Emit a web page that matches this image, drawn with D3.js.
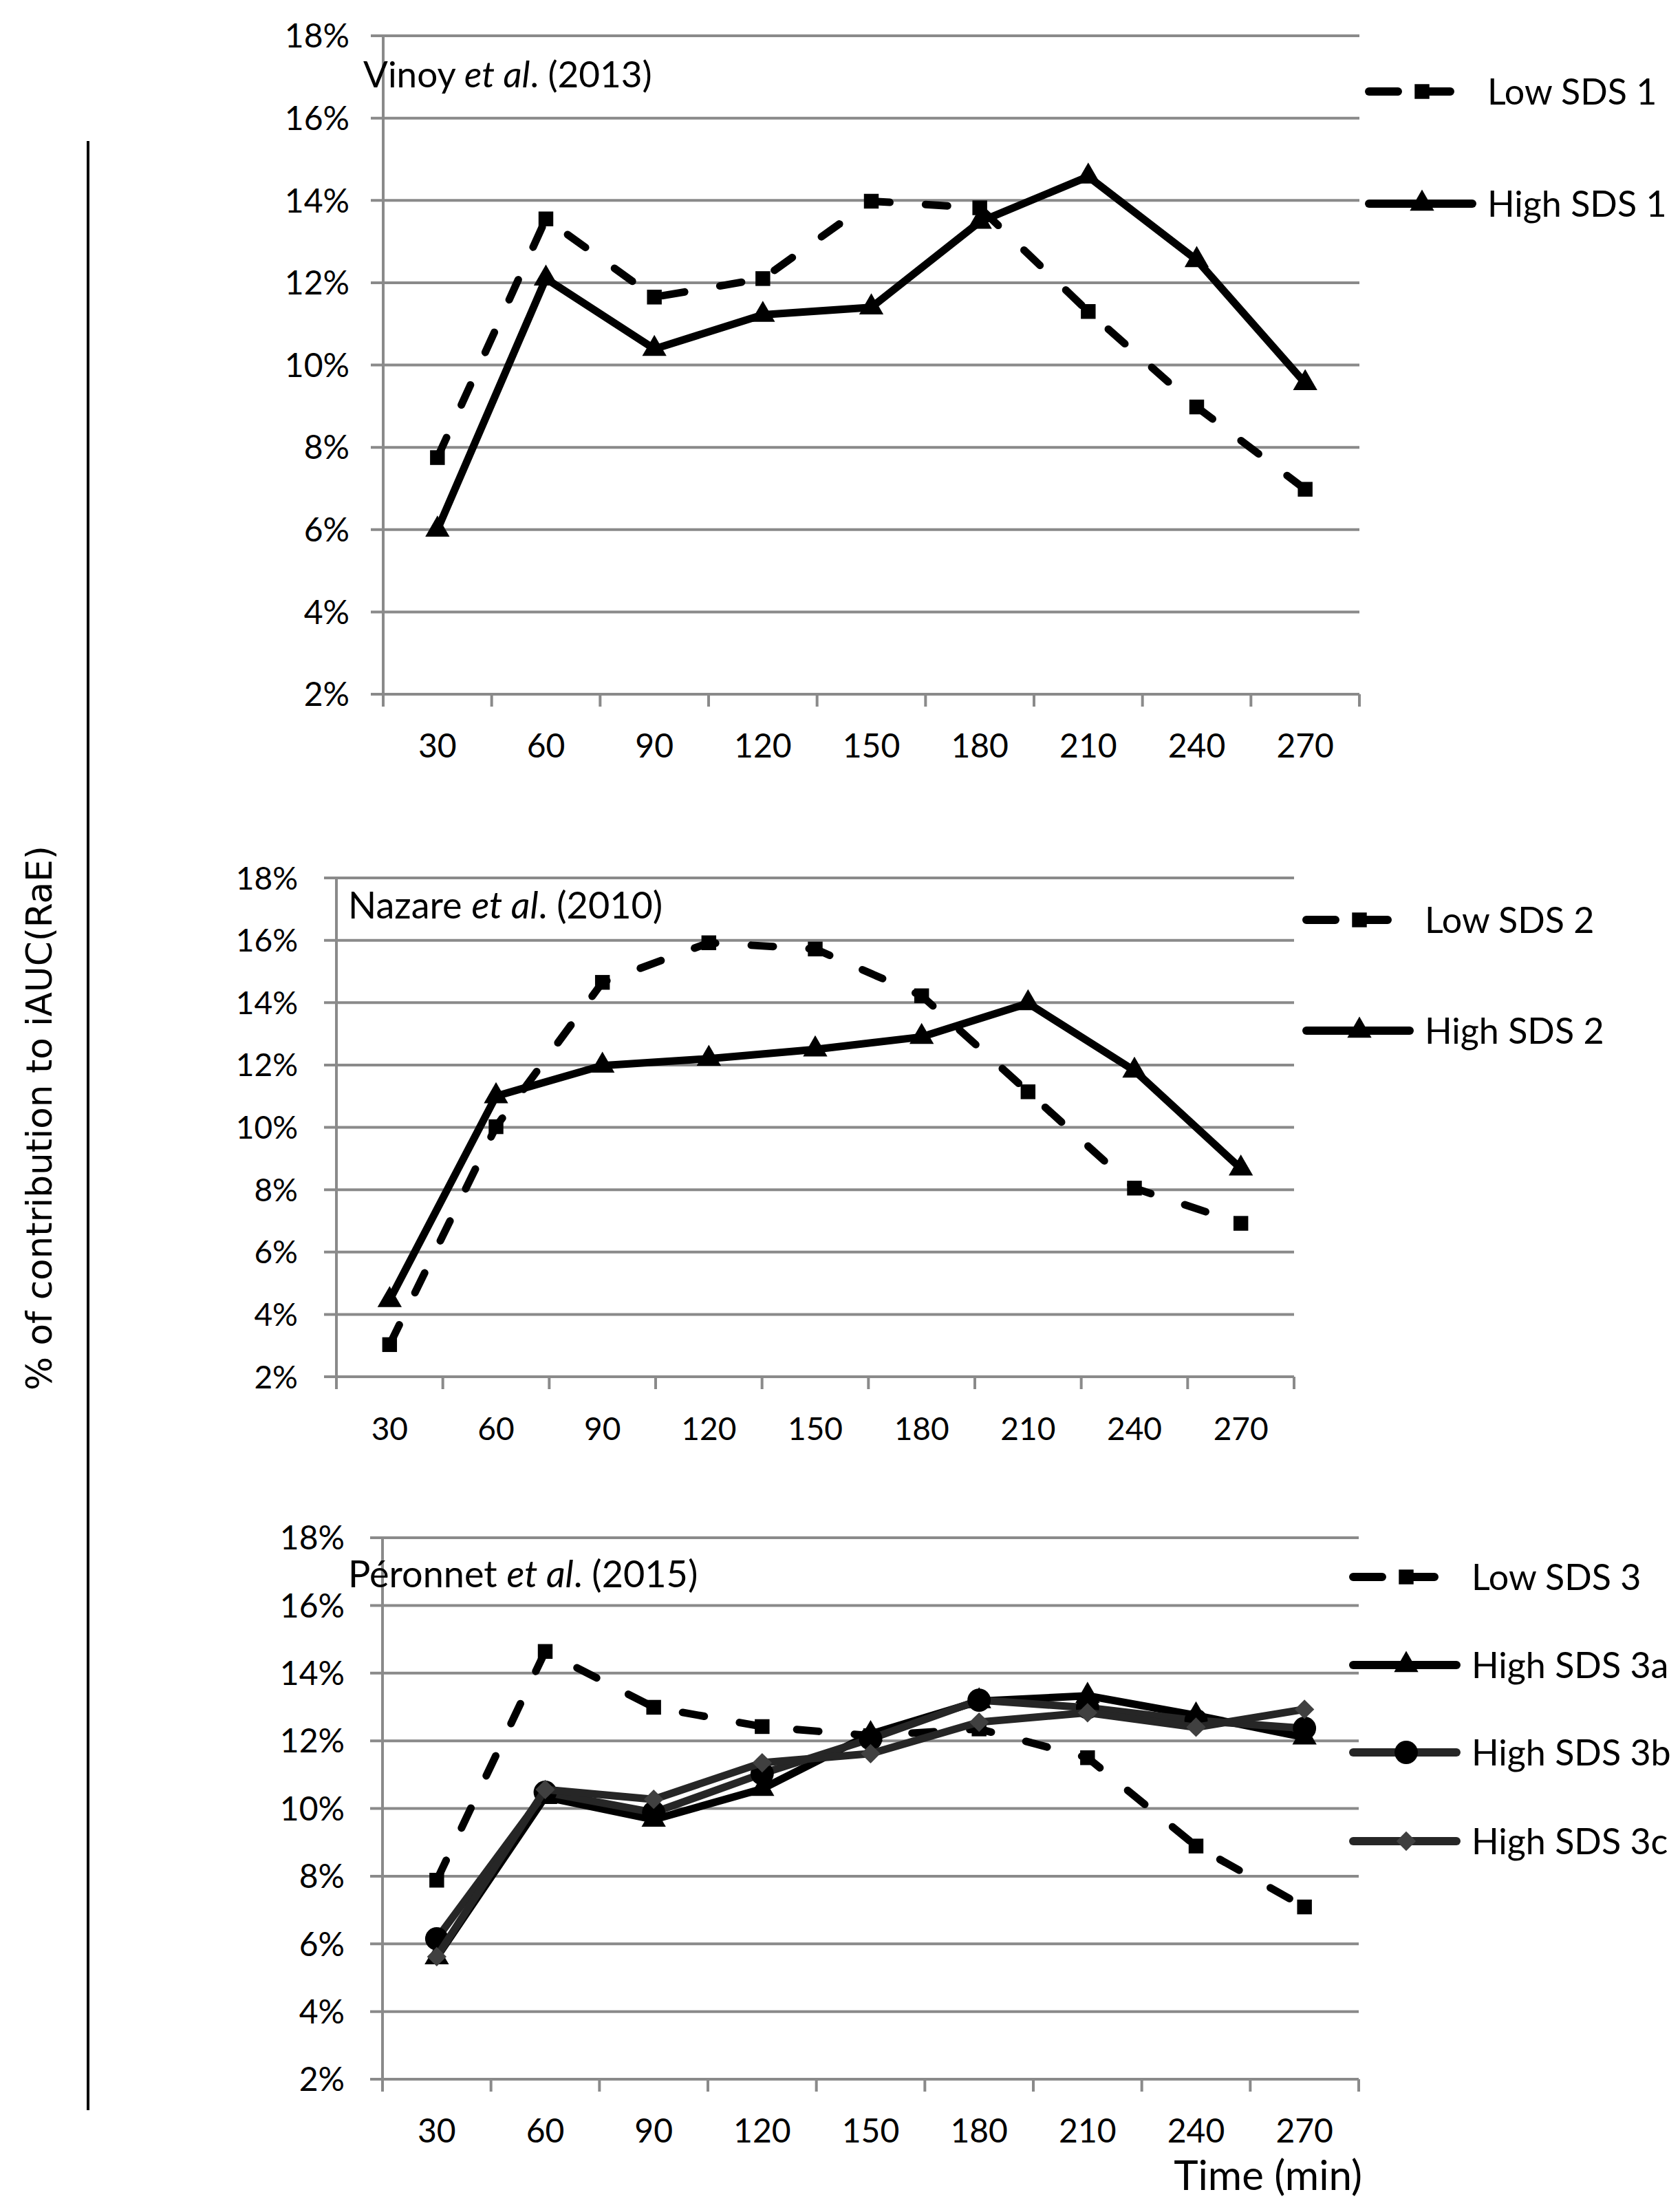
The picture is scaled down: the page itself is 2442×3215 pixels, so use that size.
<!DOCTYPE html>
<html>
<head>
<meta charset="utf-8">
<script src="https://cdn.jsdelivr.net/npm/d3@7"></script>
<style>
  body { margin: 0; background: #fff; }
  text { font-family: Lato, "Open Sans", sans-serif; fill: #000; }
</style>
</head>
<body>
<div id="chart"></div>
<script>
// ---- data ----
let times = ["30", "60", "90", "120", "150", "180", "210", "240", "270"];
let yTicks = [2, 4, 6, 8, 10, 12, 14, 16, 18];

// Vinoy et al. (2013)
let lowSDS1  = [7.75, 13.55, 11.65, 12.1, 13.98, 13.82, 11.3, 8.98, 6.98];
let highSDS1 = [6.0, 12.1, 10.39, 11.22, 11.4, 13.48, 14.58, 12.55, 9.56];

// Nazare et al. (2010)
let lowSDS2  = [3.03, 10.02, 14.65, 15.92, 15.72, 14.22, 11.14, 8.05, 6.92];
let highSDS2 = [4.46, 11.0, 11.98, 12.2, 12.5, 12.9, 13.98, 11.82, 8.68];

// Péronnet et al. (2015)
let lowSDS3   = [7.88, 14.64, 12.99, 12.42, 12.15, 12.35, 11.5, 8.89, 7.09];
let highSDS3a = [5.6, 10.34, 9.67, 10.58, 12.2, 13.17, 13.33, 12.75, 12.1];
let highSDS3b = [6.15, 10.48, 9.88, 11.03, 12.06, 13.2, 12.98, 12.6, 12.37];
let highSDS3c = [5.62, 10.56, 10.27, 11.35, 11.62, 12.55, 12.83, 12.4, 12.93];

let width = 2442, height = 3215;

let svg = d3.select("#chart").append("svg")
  .attr("width", width)
  .attr("height", height);

// big y label + the vertical line beside it
svg.append("text")
  .attr("transform", "translate(75,1625) rotate(-90)")
  .attr("text-anchor", "middle")
  .style("font-family", "'DejaVu Sans', Verdana, sans-serif")
  .style("font-size", "52px")
  .attr("textLength", 792)
  .attr("lengthAdjust", "spacingAndGlyphs")
  .text("% of contribution to iAUC(RaE)");

svg.append("line")
  .attr("x1", 128).attr("x2", 128)
  .attr("y1", 205).attr("y2", 3067)
  .style("stroke", "#000").style("stroke-width", 4);

// marker shapes
let symbols = {
  square: d3.symbol().type(d3.symbolSquare).size(460)(),
  triangle: d3.symbol().type(d3.symbolTriangle).size(540)(),
  circle: d3.symbol().type(d3.symbolCircle).size(900)(),
  diamond: d3.symbol().type(d3.symbolSquare).size(400)()
};

function drawPanel(p) {
  let g = svg.append("g");

  let x = d3.scaleBand().domain(times).range([p.left, p.right]);
  let y = d3.scaleLinear().domain([2, 18]).range([p.bottom, p.top]);
  let cx = d => x(d) + x.bandwidth() / 2;

  // gridlines (they also form the y ticks)
  g.selectAll(".grid").data(yTicks).enter().append("line")
    .attr("x1", p.left - 18).attr("x2", p.right)
    .attr("y1", d => y(d)).attr("y2", d => y(d))
    .style("stroke", "#8a8a8a").style("stroke-width", 4);

  // y axis line
  g.append("line")
    .attr("x1", p.left).attr("x2", p.left)
    .attr("y1", y(18)).attr("y2", p.bottom + 18)
    .style("stroke", "#8a8a8a").style("stroke-width", 4);

  // x ticks between the categories
  let edges = times.map(t => x(t)).concat([p.right]);
  g.selectAll(".xt").data(edges).enter().append("line")
    .attr("x1", d => d).attr("x2", d => d)
    .attr("y1", p.bottom).attr("y2", p.bottom + 18)
    .style("stroke", "#8a8a8a").style("stroke-width", 4);

  // y tick labels
  g.selectAll(".yl").data(yTicks).enter().append("text")
    .attr("x", p.yLabelX)
    .attr("y", d => y(d))
    .attr("dy", "0.36em")
    .attr("text-anchor", "end")
    .style("font-size", p.fs + "px")
    .text(d => d + "%");

  // x tick labels
  g.selectAll(".xl").data(times).enter().append("text")
    .attr("x", cx)
    .attr("y", p.bottom + 92)
    .attr("text-anchor", "middle")
    .style("font-size", p.fs + "px")
    .text(d => d);

  // panel title
  let title = g.append("text")
    .attr("x", p.titleX).attr("y", p.titleY)
    .style("font-size", p.titleFs + "px");
  title.append("tspan").text(p.author + " ");
  title.append("tspan").style("font-style", "italic").text("et al");
  title.append("tspan").text(". (" + p.year + ")");

  let line = d3.line()
    .x((d, i) => cx(times[i]))
    .y(d => y(d));

  p.series.forEach((s, k) => {
    g.append("path")
      .attr("d", line(s.values))
      .style("fill", "none")
      .style("stroke", s.color)
      .style("stroke-width", 11)
      .style("stroke-linejoin", "round")
      .style("stroke-linecap", "round")
      .style("stroke-dasharray", s.dash ? "32,52" : null);

    g.selectAll(".m" + k).data(s.values).enter().append("path")
      .attr("d", symbols[s.marker])
      .attr("transform", (d, i) => "translate(" + cx(times[i]) + "," + y(d) + ")" +
        (s.marker == "diamond" ? " rotate(45)" : ""))
      .style("fill", s.markerColor || s.color);

    // legend entry
    let ly = p.legendY[k];
    g.append("line")
      .attr("x1", p.legendX).attr("x2", p.legendX + 150)
      .attr("y1", ly).attr("y2", ly)
      .style("stroke", s.color)
      .style("stroke-width", 12)
      .style("stroke-linecap", "round")
      .style("stroke-dasharray", s.dash ? "42,34" : null);
    g.append("path")
      .attr("d", symbols[s.marker])
      .attr("transform", "translate(" + (p.legendX + 77) + "," + ly + ")" +
        (s.marker == "diamond" ? " rotate(45)" : ""))
      .style("fill", s.markerColor || s.color);
    g.append("text")
      .attr("x", p.legendX + 172)
      .attr("y", ly)
      .attr("dy", "0.36em")
      .style("font-size", p.legendFs + "px")
      .text(s.name);
  });
}

drawPanel({
  left: 557, right: 1976, top: 52, bottom: 1009,
  yLabelX: 508, fs: 48, titleFs: 53, legendFs: 52,
  author: "Vinoy", year: "2013", titleX: 528, titleY: 127,
  legendX: 1990, legendY: [133, 296],
  series: [
    { name: "Low SDS 1", values: lowSDS1, color: "#000", dash: true, marker: "square" },
    { name: "High SDS 1", values: highSDS1, color: "#000", dash: false, marker: "triangle" }
  ]
});

drawPanel({
  left: 489, right: 1881, top: 1276, bottom: 2001,
  yLabelX: 433, fs: 46, titleFs: 54, legendFs: 52,
  author: "Nazare", year: "2010", titleX: 506, titleY: 1335,
  legendX: 1899, legendY: [1337, 1498],
  series: [
    { name: "Low SDS 2", values: lowSDS2, color: "#000", dash: true, marker: "square" },
    { name: "High SDS 2", values: highSDS2, color: "#000", dash: false, marker: "triangle" }
  ]
});

drawPanel({
  left: 556, right: 1975, top: 2235, bottom: 3022,
  yLabelX: 501, fs: 48, titleFs: 54, legendFs: 52,
  author: "Péronnet", year: "2015", titleX: 506, titleY: 2307,
  legendX: 1967, legendY: [2292, 2420, 2547, 2676],
  series: [
    { name: "Low SDS 3", values: lowSDS3, color: "#000", dash: true, marker: "square" },
    { name: "High SDS 3a", values: highSDS3a, color: "#000", dash: false, marker: "triangle" },
    { name: "High SDS 3b", values: highSDS3b, color: "#262626", dash: false, marker: "circle", markerColor: "#000" },
    { name: "High SDS 3c", values: highSDS3c, color: "#262626", dash: false, marker: "diamond", markerColor: "#404040" }
  ]
});

// x axis title under the last panel
svg.append("text")
  .attr("x", 1980).attr("y", 3183)
  .attr("text-anchor", "end")
  .style("font-size", "60px")
  .text("Time (min)");
</script>
</body>
</html>
